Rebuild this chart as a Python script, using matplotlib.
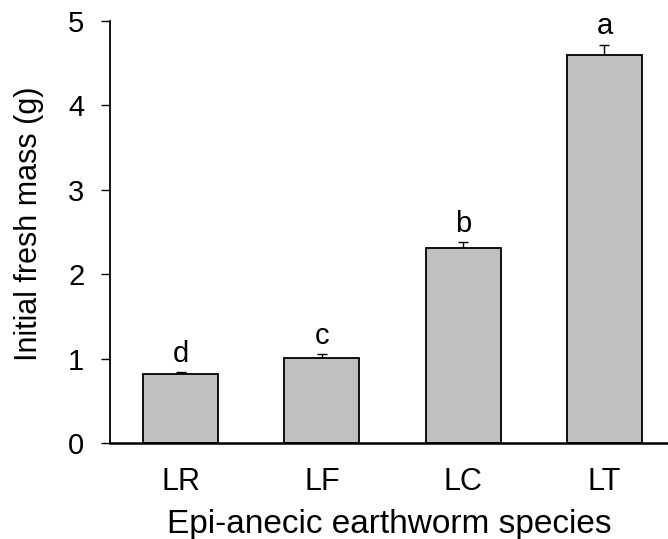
import matplotlib
matplotlib.use("Agg")
import matplotlib.pyplot as plt
import numpy as np

plt.rcParams["font.family"] = ["Liberation Sans", "DejaVu Sans"]

species = ["LR", "LF", "LC", "LT"]
mass = [0.82, 1.01, 2.31, 4.60]
mass_se = [0.02, 0.04, 0.07, 0.12]
letters = ["d", "c", "b", "a"]

x = np.arange(len(species))

fig = plt.figure(figsize=(6.68, 5.39), dpi=100)
ax = fig.add_axes([0.1647, 0.178, 0.8353, 0.783])

bars = ax.bar(x, mass, width=0.53, color="#c0c0c0", edgecolor="black", linewidth=1.3, zorder=2)
ax.errorbar(x, mass, yerr=[[0] * len(mass), mass_se], fmt="none", ecolor="black",
            elinewidth=1.0, capsize=3.6, capthick=1.0, zorder=1)

# significance letters above error bars
for xi, m, se, lab in zip(x, mass, mass_se, letters):
    ax.annotate(lab, (xi, m + se), xytext=(0, 3), textcoords="offset points",
                ha="center", va="bottom", fontsize=21)

ax.set_xlim(-0.499, 3.45)
ax.set_ylim(0, 5)
ax.set_yticks([0, 1, 2, 3, 4, 5])
ax.set_xticks(x)
ax.set_xticklabels(species)

ax.spines["top"].set_visible(False)
ax.spines["right"].set_visible(False)
ax.spines["left"].set_linewidth(1.3)
ax.spines["bottom"].set_linewidth(1.8)
ax.tick_params(axis="y", direction="out", length=6.5, width=1.0, labelsize=21, pad=12)
ax.tick_params(axis="x", length=0, labelsize=22, pad=17)

ax.set_ylabel("Initial fresh mass (g)", fontsize=22)
ax.yaxis.set_label_coords(-0.118, 0.52)
ax.set_xlabel("Epi-anecic earthworm species", fontsize=24, labelpad=9)

fig.savefig("out.png", dpi=100)
